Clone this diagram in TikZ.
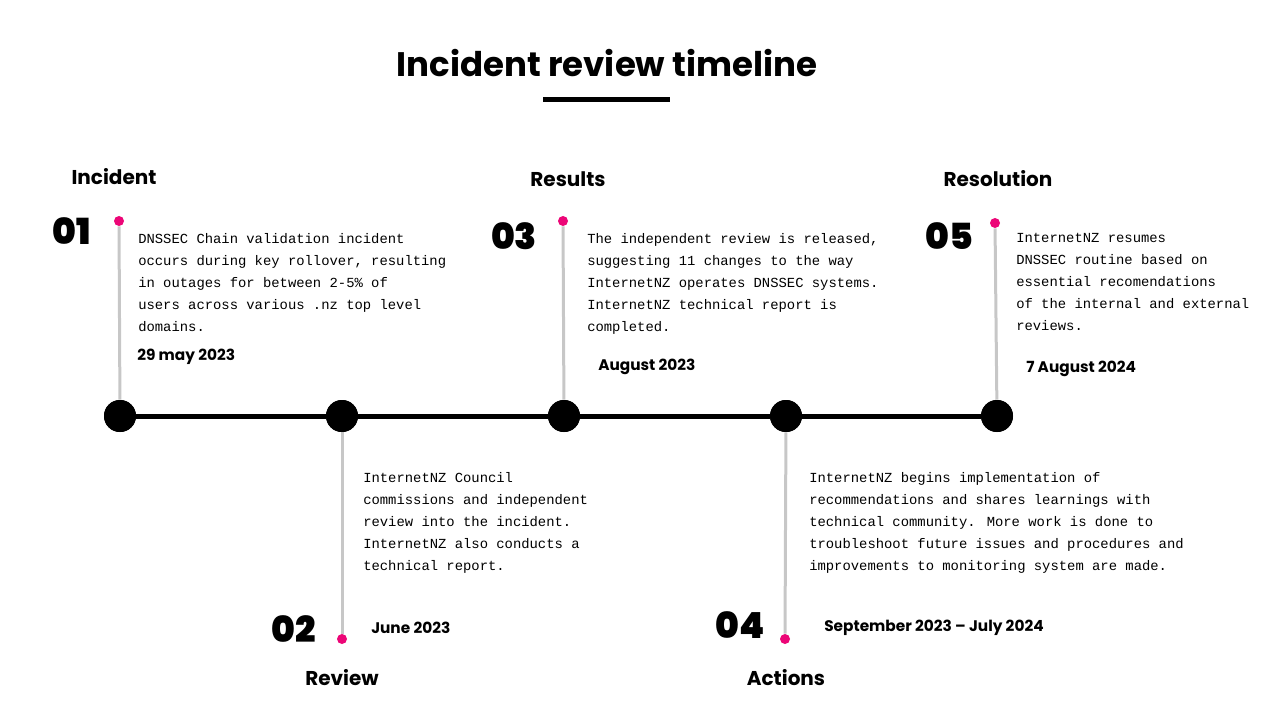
\documentclass[tikz,border=0pt]{standalone}
\usepackage{fontspec}
\setmainfont{Poppins}
\newfontfamily\bodyf{Liberation Mono}
\newfontfamily\headf{Poppins}[UprightFont=* Black,BoldFont=* Black]
\begin{document}
\begin{tikzpicture}[x=0.75pt,y=-0.75pt,
  big/.style={circle,fill=black,inner sep=0,minimum size=32*0.75pt},
  pink/.style={circle,fill=magenta!80!red,inner sep=0,minimum size=10*0.75pt},
  stem/.style={draw=black!22,line width=3*0.75pt},
  body/.style={anchor=north west,align=left,inner sep=0,font=\bodyf\fontsize{10.4}{16.5}\selectfont},
  date/.style={anchor=west,inner sep=0,font=\bfseries\fontsize{11.5}{14}\selectfont},
  lab/.style={inner sep=0,font=\bfseries\fontsize{15}{18}\selectfont},
  num/.style={inner sep=0,font=\headf\fontsize{27}{30}\selectfont}]
\useasboundingbox (0,0) rectangle (1280,720);
\node[inner sep=0,font=\bfseries\fontsize{25.5}{30}\selectfont] (title) at (607,63) {Incident review timeline};
\draw[line width=5*0.75pt] (543,100) -- (670,100);
\foreach \n/\x in {a/120,b/342,c/564,d/786,e/997}{\node[big] (\n) at (\x,416) {};}
\draw[line width=5*0.75pt] (a) -- (b) -- (c) -- (d) -- (e);
\node[pink] (pa) at (119,221) {};
\node[pink] (pc) at (563,221) {};
\node[pink] (pe) at (995,223) {};
\node[pink] (pb) at (342,639) {};
\node[pink] (pd) at (785,639) {};
\foreach \p/\q in {pa/a,pc/c,pe/e,pb/b,pd/d}{\draw[stem] (\p) -- (\q);}
\foreach \n/\x/\y in {a/120/416,b/342/416,c/564/416,d/786/416,e/997/416}{\node[big] at (\n) {};}
% labels
\node[lab] (la) at (114,177) {Incident};
\node[lab] (lc) at (568,179) {Results};
\node[lab] (le) at (998,179) {Resolution};
\node[lab] (lb) at (342,678) {Review};
\node[lab] (ld) at (786,678) {Actions};
\node[num] (na) at (72,231) {01};
\node[num] (nc) at (514,236) {03};
\node[num] (ne) at (949,236) {05};
\node[num] (nb) at (294,629) {02};
\node[num] (nd) at (740,625) {04};
% bodies
\node[body] (ta) at (138,233) {DNSSEC Chain validation incident\\occurs during key rollover, resulting\\in outages for between 2-5\% of\\users across various .nz top level\\domains.};
\node[date] (da) at (137,357) {29 may 2023};
\node[body] (tc) at (587,233) {The independent review is released,\\suggesting 11 changes to the way\\InternetNZ operates DNSSEC systems.\\InternetNZ technical report is\\completed.};
\node[date] (dc) at (598,367) {August 2023};
\node[body] (te) at (1016,233) {InternetNZ resumes\\DNSSEC routine based on\\essential recomendations\\of the internal and external\\reviews.};
\node[date] (de) at (1026,369) {7 August 2024};
\node[body] (tb) at (363,472) {InternetNZ Council\\commissions and independent\\review into the incident.\\InternetNZ also conducts a\\technical report.};
\node[date] (db) at (371,628) {June 2023};
\node[body] (td) at (809,472) {InternetNZ begins implementation of\\recommendations and shares learnings with\\technical community. More work is done to\\troubleshoot future issues and procedures and\\improvements to monitoring system are made.};
\node[date] (dd) at (824,628) {September 2023 – July 2024};
\end{tikzpicture}
\end{document}
